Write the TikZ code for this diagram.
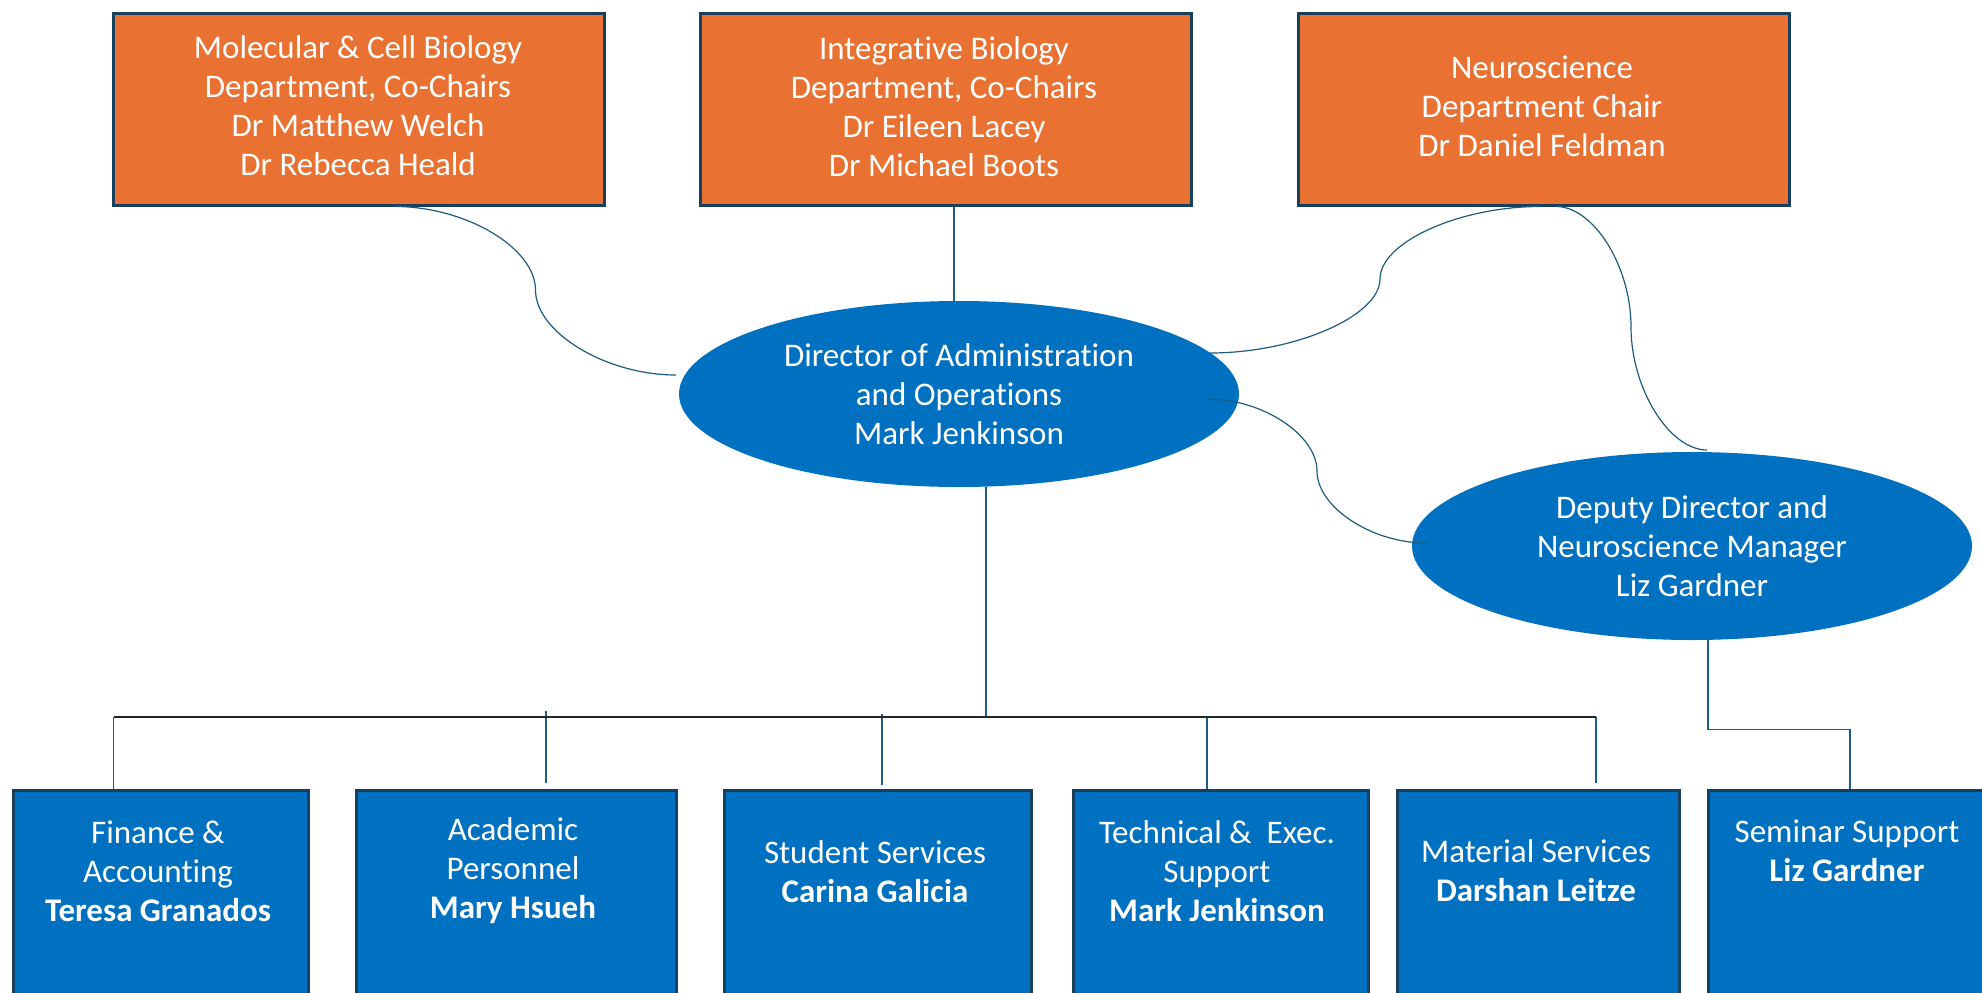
\documentclass[tikz,border=0pt]{standalone}
\usepackage{fontspec}
\setmainfont[Ligatures=NoCommon]{Carlito}
\usetikzlibrary{calc,shapes.geometric}
\definecolor{org}{HTML}{E97132}
\definecolor{blu}{HTML}{0070C0}
\definecolor{edge}{HTML}{17405E}
\definecolor{lnk}{HTML}{1D5B80}
\definecolor{busc}{HTML}{262626}
\begin{document}
\begin{tikzpicture}[x=1pt,y=-1pt,
  txt/.style={text=white,font=\fontsize{33}{39}\selectfont,align=center},
  obox/.style={draw=edge,line width=3pt,fill=org,minimum width=491pt,minimum height=192pt,inner sep=0pt},
  bbox/.style={draw=edge,line width=3pt,fill=blu,minimum height=260pt,inner sep=0pt,anchor=north},
  oval/.style={ellipse,fill=blu,inner sep=0pt,txt},
  conn/.style={draw=lnk,line width=1.2pt},
  busline/.style={draw=busc,line width=1.6pt},
]
\useasboundingbox (0,0) rectangle (1982,993);
\fill[white] (0,0) rectangle (1982,993);

% top department boxes
\node[obox] (mcb) at (359,109) {};
\node[obox] (ib) at (945.5,109) {};
\node[obox] (ns) at (1543.5,109) {};
\node[txt] (mcbT) at (358,105.5) {Molecular \& Cell Biology\\Department, Co-Chairs\\Dr Matthew Welch\\Dr Rebecca Heald};
\node[txt] (ibT) at (944,106.5) {Integrative Biology\\Department, Co-Chairs\\Dr Eileen Lacey\\Dr Michael Boots};
\node[txt] (nsT) at (1542,106) {Neuroscience\\Department Chair\\Dr Daniel Feldman};

% ellipses
\node[oval,minimum width=560pt,minimum height=186pt] (dir) at (959,394) {Director of Administration\\and Operations\\Mark Jenkinson};
\node[oval,minimum width=560pt,minimum height=188pt] (dep) at (1692,546) {Deputy Director and\\Neuroscience Manager\\Liz Gardner};

% bottom boxes
\node[bbox,minimum width=295pt] (fin) at (160.5,789) {};
\node[bbox,minimum width=320pt] (aca) at (516,789) {};
\node[bbox,minimum width=307pt] (stu) at (877.5,789) {};
\node[bbox,minimum width=295pt] (tec) at (1220.5,789) {};
\node[bbox,minimum width=282pt] (mat) at (1538,789) {};
\node[bbox,minimum width=278pt] (sem) at (1847,789) {};

\node[txt] (finT) at (158,871) {Finance \&\\Accounting\\\textbf{Teresa Granados}};
\node[txt] (acaT) at (513,871) {Academic\\Personnel\\\textbf{Mary Hsueh}};
\node[txt] (stuT) at (875,871.5) {Student Services\\\textbf{Carina Galicia}};
\node[txt] (tecT) at (1217,871) {Technical \&\ \ Exec.\\Support\\\textbf{Mark Jenkinson}};
\node[txt] (matT) at (1536,871) {Material Services\\\textbf{Darshan Leitze}};
\node[txt] (semT) at (1847,851) {Seminar Support\\\textbf{Liz Gardner}};

% connectors: top
\draw[conn] ([xshift=8.5pt]ib.south) -- ([xshift=8.5pt]ib.south |- dir.north);
\draw[conn] ([xshift=36pt]mcb.south) .. controls +(70,0) and +(0,-42.5) .. (535.5,290)
  .. controls +(0,42.5) and +(-70,0) .. ($(dir.center)+(-283,-19)$);
\draw[conn] ([xshift=-3.5pt]ns.south) .. controls +(-80,0) and +(0,-37) .. (1380,279)
  .. controls +(0,37) and +(85,0) .. ($(dir.center)+(251,-41)$);
\draw[conn] ([xshift=12.5pt]ns.south) .. controls +(37.5,0) and +(0,-61) .. (1631,327)
  .. controls +(0,61) and +(-38,0) .. ($(dep.center)+(15,-96)$);
\draw[conn] ($(dir.center)+(249,5)$) .. controls +(54.5,0) and +(0,-36) .. (1317,471)
  .. controls +(0,36) and +(-54.5,0) .. ($(dep.center)+(-266,-3)$);

% bus
\coordinate (busL) at (113.5,717);
\coordinate (busR) at (1596,717);
\coordinate (tAca) at (546,711);
\coordinate (tStu) at (882,714);
\coordinate (tTec) at (1207,717);
\draw[conn] ([xshift=27pt]dir.south) -- ([xshift=27pt]dir.south |- busL);
\draw[conn] (busL) -- (busL |- fin.north);
\draw[conn,shorten >=6pt] (tAca) -- (tAca |- aca.north);
\draw[conn,shorten >=4pt] (tStu) -- (tStu |- stu.north);
\draw[conn] (tTec) -- (tTec |- tec.north);
\draw[conn,shorten >=6pt] (busR) -- (busR |- mat.north);
\draw[busline] (busL) -- (busR);

% deputy to seminar
\draw[conn] ([xshift=16pt]dep.south) -- ++(0,89) -| ([xshift=3pt]sem.north);
\end{tikzpicture}
\end{document}
